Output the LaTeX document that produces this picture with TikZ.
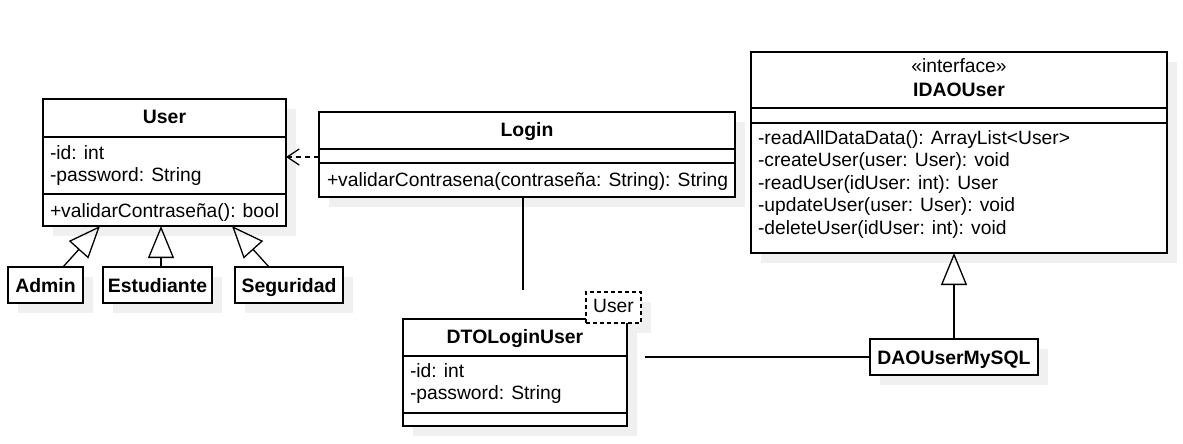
\documentclass[tikz,border=0pt]{standalone}
\usepackage{fontspec}
\setmainfont{Liberation Sans}
\usetikzlibrary{arrows.meta,calc,backgrounds}
\definecolor{shadowc}{RGB}{240,240,240}
\begin{document}
\begin{tikzpicture}[x=1pt,y=-1pt,
  every node/.style={inner sep=0pt, outer sep=0pt},
  box/.style={draw, line width=1.3pt, fill=white, anchor=north west},
  tmpl/.style={draw, line width=1.2pt, dash pattern=on 4pt off 3pt, fill=white, anchor=north west},
  txt/.style={font=\fontsize{19.25}{22.5}\selectfont, anchor=base west},
  ctr/.style={font=\fontsize{19.25}{22.5}\selectfont, anchor=base},
  ttl/.style={font=\fontsize{19.4}{22.5}\selectfont\bfseries, anchor=base},
  ln/.style={line width=1.3pt},
  gen/.style={line width=1.3pt, -{Triangle[open,length=32pt,width=26pt]}},
  dep/.style={line width=1.3pt, dash pattern=on 5pt off 4pt, -{Straight Barb[length=12pt,width=16pt]}}]
\useasboundingbox (0,0) rectangle (1183,444);

% boxes
\node[box, minimum width=243pt, minimum height=127pt] (user) at (43,99) {};
\node[box, minimum width=416pt, minimum height=85pt] (login) at (319,112) {};
\node[box, minimum width=224pt, minimum height=107pt] (dto) at (403,319) {};
\node[tmpl, minimum width=55pt, minimum height=31pt] (tpl) at (586,292) {};
\node[box, minimum width=416pt, minimum height=201pt] (idao) at (751,52) {};
\node[box, minimum width=168pt, minimum height=36pt] (dao) at (870,339) {};
\node[box, minimum width=75pt, minimum height=36pt] (admin) at (8,267) {};
\node[box, minimum width=109pt, minimum height=36pt] (est) at (103,267) {};
\node[box, minimum width=108pt, minimum height=36pt] (seg) at (235,267) {};

% compartments
\draw[ln] ($(user.north west)+(0,38)$) -- ($(user.north east)+(0,38)$);
\draw[ln] ($(user.north west)+(0,95)$) -- ($(user.north east)+(0,95)$);
\draw[ln] ($(login.north west)+(0,37)$) -- ($(login.north east)+(0,37)$);
\draw[ln] ($(login.north west)+(0,51)$) -- ($(login.north east)+(0,51)$);
\draw[ln] ($(dto.north west)+(0,37)$) -- ($(dto.north east)+(0,37)$);
\draw[ln] ($(dto.north west)+(0,94)$) -- ($(dto.north east)+(0,94)$);
\draw[ln] ($(idao.north west)+(0,56)$) -- ($(idao.north east)+(0,56)$);
\draw[ln] ($(idao.north west)+(0,71)$) -- ($(idao.north east)+(0,71)$);

% redraw template box on top of DTO border
\node[tmpl, minimum width=55pt, minimum height=31pt] (tpl2) at (586,292) {};

% texts
\node[ttl] (userT) at (164.5,123) {User};
\node[txt] (userA1) at (50,159) {-id: int};
\node[txt] (userA2) at (50,181) {-password: String};
\node[txt] (userM1) at (50,217) {+validarContraseña(): bool};

\node[ttl] (loginT) at (527,136) {Login};
\node[txt] (loginM1) at (327,186) {+validarContrasena(contraseña: String): String};

\node[ttl] (dtoT) at (515,343) {DTOLoginUser};
\node[txt] (dtoA1) at (410,377) {-id: int};
\node[txt] (dtoA2) at (410,399) {-password: String};
\node[ctr] (tplT) at (613.5,312) {User};

\node[ctr] (idaoS) at (959,72) {«interface»};
\node[ttl] (idaoT) at (959,96) {IDAOUser};
\node[txt] (idaoM1) at (758,144) {-readAllDataData(): ArrayList<User>};
\node[txt] (idaoM2) at (758,166.5) {-createUser(user: User): void};
\node[txt] (idaoM3) at (758,189) {-readUser(idUser: int): User};
\node[txt] (idaoM4) at (758,211.5) {-updateUser(user: User): void};
\node[txt] (idaoM5) at (758,234) {-deleteUser(idUser: int): void};

\node[ttl] (daoT) at (954,364) {DAOUserMySQL};
\node[ttl] (adminT) at (45.5,292) {Admin};
\node[ttl] (estT) at (157.5,292) {Estudiante};
\node[ttl] (segT) at (289,292) {Seguridad};

% connectors
\draw[gen] ([xshift=17.5pt]admin.north) -- ([xshift=-64.5pt]user.south);
\draw[gen] ([xshift=3.5pt]est.north) -- ([xshift=-3.5pt]user.south);
\draw[gen] ([xshift=-20pt]seg.north) -- ([xshift=67.5pt]user.south);
\draw[dep] ([yshift=-2.5pt]login.west) -- ([yshift=5.5pt]user.east);
\coordinate (lfree) at (523,290);
\draw[ln] (lfree |- login.south) -- (lfree);
\coordinate (dfree) at (645,357);
\draw[ln] (dfree) -- (dfree -| dao.west);
\draw[gen] (dao.north) -- (dao.north |- idao.south);

% shadows
\begin{scope}[on background layer]
\fill[white] (0,0) rectangle (1183,444);
\foreach \n in {user,login,dto,tpl,idao,dao,admin,est,seg}
  \fill[shadowc] ($(\n.north west)+(10,10)$) rectangle ($(\n.south east)+(10,10)$);
\end{scope}
\end{tikzpicture}
\end{document}
